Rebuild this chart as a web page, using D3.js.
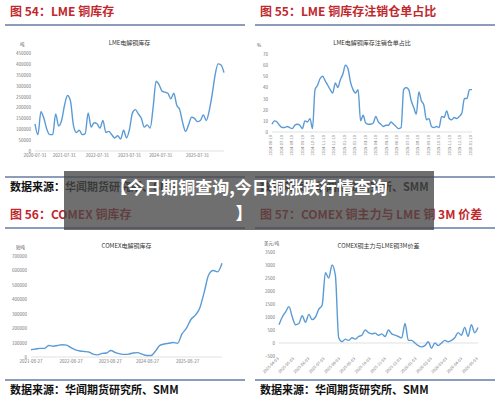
<!DOCTYPE html><html><head><meta charset="utf-8"><script src="https://cdn.jsdelivr.net/npm/d3@7"></script>
<style>body{margin:0;background:#fff}svg{display:block}</style></head><body><svg id="s" width="500" height="401"></svg>
<script>
const lmeStock=[125000,75000,180000,150000,100000,75000,75000,170000,115000,140000,210000,255000,230000,120000,85000,95000,75000,80000,175000,110000,130000,125000,105000,140000,85000,90000,75000,60000,70000,55000,95000,60000,100000,175000,190000,170000,150000,110000,120000,105000,200000,320000,305000,275000,270000,265000,240000,265000,210000,190000,130000,90000,120000,155000,150000,135000,140000,165000,140000,185000,260000,350000,400000,395000,360000];
const lmeTicksX=["2020-07-31","2021-07-31","2022-07-31","2023-07-31","2024-07-31","2025-07-31"];
const lmeTickPos=[0,0.155,0.33,0.5,0.665,0.86];
const cancelRatio=[7,10,9,6,4,4,5,4,3,6,7,6,3,10,9,12,3,38,42,48,50,46,42,38,35,44,40,47,52,60,57,45,38,35,38,10,15,8,7,7,8,14,9,7,5,6,6,9,7,5,3,4,38,40,38,28,22,16,36,28,24,11,12,5,4,5,4,14,13,19,12,11,13,12,14,17,30,30,38,38];
const cancelTicksX=["2024-06-19","2024-07-19","2024-08-19","2024-09-19","2024-10-19","2024-11-19","2024-12-19","2025-01-19","2025-02-19","2025-03-19","2025-04-19","2025-05-19","2025-06-19","2025-07-19","2025-08-19","2025-09-19","2025-10-19","2025-11-19","2025-12-19","2026-01-19"];
const comexStock=[50000,55000,60000,60000,80000,75000,80000,85000,82000,65000,50000,42000,38000,35000,20000,15000,25000,28000,45000,30000,22000,18000,20000,28000,30000,20000,10000,10000,40000,80000,90000,95000,100000,95000,160000,200000,260000,290000,340000,450000,570000,600000,590000,650000];
const comexTicksX=["2021-08-27","2022-08-27","2023-08-27","2024-08-27","2025-08-27"];
const comexTickPos=[0,0.21,0.415,0.61,0.82];
const spread=[700,1000,1200,1400,1000,700,750,1050,800,1100,900,1000,1300,1450,2700,2500,3000,2600,200,50,150,100,200,150,250,300,500,400,350,380,300,350,250,500,350,300,250,200,750,100,100,0,-100,-150,-100,50,-200,0,-100,0,100,50,100,200,400,300,600,250,700,400,600];
const spreadTicksX=["2025-04-03","2025-05-03","2025-06-03","2025-07-03","2025-08-03","2025-09-03","2025-10-03","2025-11-03","2025-12-03","2026-01-03","2026-02-03","2026-03-03","2026-04-03","2026-05-03"];

const svg=d3.select("#s");
const F="'Noto Sans CJK SC',sans-serif";
function panel(o){
  const g=svg.append("g");
  g.append("text").attr("x",o.tx).attr("y",o.ty).attr("font-family",F).attr("font-size",12).attr("font-weight","bold").attr("fill","#c0282d").text(o.title);
  g.append("line").attr("x1",o.tx-5).attr("x2",o.tx+235).attr("y1",o.ty+9).attr("y2",o.ty+9).attr("stroke","#1f3a7a").attr("stroke-width",1.2);
  g.append("text").attr("x",(o.x0+o.x1)/2).attr("y",o.ty+29).attr("text-anchor","middle").attr("font-family",F).attr("font-size",6).attr("fill","#333").text(o.ct);
  g.append("text").attr("x",o.x0-15).attr("y",o.y0-7).attr("font-family",F).attr("font-size",4.5).attr("fill","#555").text(o.unit);
  const y=d3.scaleLinear().domain(o.yd).range([o.y1,o.y0]);
  const x=d3.scaleLinear().domain([0,o.data.length-1]).range([o.x0,o.x1]);
  const ya=g.append("g").attr("transform",`translate(${o.x0-2},0)`).call(d3.axisLeft(y).tickValues(o.yt).tickSize(0).tickPadding(2).tickFormat(d3.format("d")));
  ya.select(".domain").remove();
  ya.selectAll("text").attr("font-size",4.5).attr("fill","#777").attr("font-family",F);
  g.append("line").attr("x1",o.x0).attr("x2",o.x1).attr("y1",y(0)).attr("y2",y(0)).attr("stroke","#ccc").attr("stroke-width",0.6);
  const xs=d3.scaleLinear().domain([0,1]).range([o.x0,o.x1]);
  o.xt.forEach((t,i)=>{
    const px=o.xp?xs(o.xp[i]):o.x0+(o.x1-o.x0)*i/(o.xt.length-1);
    if(o.rot){g.append("text").attr("transform",`translate(${px},${o.y1+3}) rotate(${o.rot})`).attr("text-anchor","end").attr("font-size",4).attr("fill","#777").attr("font-family",F).text(t);}
    else g.append("text").attr("x",px).attr("y",o.y1+6).attr("text-anchor","middle").attr("font-size",4.5).attr("fill","#777").attr("font-family",F).text(t);
  });
  g.append("path").datum(o.data).attr("d",d3.line().x((d,i)=>x(i)).y(d=>y(d)).curve(d3.curveMonotoneX)).attr("fill","none").attr("stroke","#5b9bd5").attr("stroke-width",1.4);
  g.append("line").attr("x1",o.tx-5).attr("x2",o.tx+235).attr("y1",o.sy-10).attr("y2",o.sy-10).attr("stroke","#1f3a7a").attr("stroke-width",1.2);
  g.append("text").attr("x",o.tx).attr("y",o.sy+4).attr("font-family",F).attr("font-size",11).attr("font-weight","bold").attr("fill","#111").text("数据来源：华闻期货研究所、SMM");
}
panel({tx:10,ty:16,title:"图 54：LME 铜库存",ct:"LME电解铜库存",unit:"吨",x0:35,x1:224,y0:53,y1:151,yd:[0,450000],yt:d3.range(0,450001,50000),data:lmeStock,xt:lmeTicksX,xp:lmeTickPos,sy:187});
panel({tx:260,ty:16,title:"图 55：LME 铜库存注销仓单占比",ct:"LME电解铜库存注销仓单占比",unit:"%",x0:272,x1:472,y0:54,y1:132,yd:[0,70],yt:d3.range(0,71,10),data:cancelRatio,xt:cancelTicksX,rot:-90,sy:187});
panel({tx:10,ty:219,title:"图 56：COMEX 铜库存",ct:"COMEX电解铜库存",unit:"短吨",x0:31,x1:222,y0:256,y1:357,yd:[0,700000],yt:d3.range(0,700001,100000),data:comexStock,xt:comexTicksX,xp:comexTickPos,sy:390});
panel({tx:260,ty:219,title:"图 57：COMEX 铜主力与 LME 铜 3M 价差",ct:"COMEX铜主力与LME铜3M价差",unit:"美元/吨",x0:279,x1:478,y0:252,y1:356,yd:[-500,3500],yt:d3.range(-500,3501,500),data:spread,xt:spreadTicksX,rot:-45,sy:390});
svg.append("rect").attr("x",64).attr("y",171).attr("width",370).attr("height",59).attr("fill","rgba(70,70,70,0.78)");
svg.append("text").attr("x",249).attr("y",194).attr("text-anchor","middle").attr("font-family",F).attr("font-size",17).attr("font-weight","bold").attr("fill","#fff").text("【今日期铜查询,今日铜涨跌行情查询");
svg.append("text").attr("x",244).attr("y",220).attr("text-anchor","middle").attr("font-family",F).attr("font-size",17).attr("font-weight","bold").attr("fill","#fff").text("】");
</script></body></html>
